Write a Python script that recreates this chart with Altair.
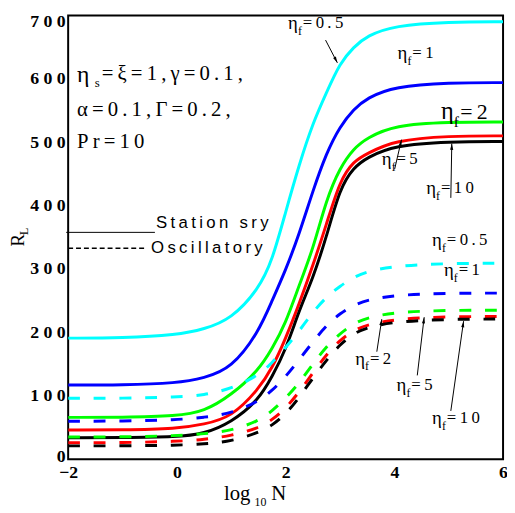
import math
import altair as alt
import pandas as pd

# ---------------- data ----------------
log_n = [-2, -1, 0, 0.5, 1, 1.5, 1.75, 2, 2.25, 2.5, 2.75, 3, 3.25, 3.5, 4, 5, 6]
eta_f_values = ["0.5", "1", "2", "5", "10"]
line_colors = ["#00FFFF", "#0000FF", "#00FF00", "#FF0000", "#000000"]

stat_05 = [191, 191, 196, 205, 221, 268, 312, 390, 465, 530, 578, 625, 650, 668, 684, 690, 690]
stat_1 = [117, 117, 120, 128, 143, 200, 250, 298, 355, 423, 483, 525, 552, 570, 588, 594, 594]
stat_2 = [66, 66, 68, 75, 101, 140, 174, 214, 275, 330, 410, 460, 490, 507, 527, 532, 532]
stat_5 = [46, 46, 48, 55, 66, 110, 143, 190, 245, 305, 370, 440, 470, 482, 503, 510, 510]
stat_10 = [34, 34, 35, 40, 58, 93, 130, 172, 235, 285, 350, 428, 460, 476, 495, 501, 501]

osc_05 = [96, 96, 98, 101, 111, 132, 152, 176, 202, 232, 256, 273, 287, 296, 305, 309, 309]
osc_1 = [60, 60, 62, 66, 72, 91, 108, 130, 157, 185, 211, 230, 243, 251, 259, 262, 262]
osc_2 = [35, 35, 37, 40, 45, 60, 76, 96, 120, 150, 178, 198, 214, 223, 232, 235, 235]
osc_5 = [26, 26, 28, 31, 37, 49, 62, 80, 106, 136, 165, 188, 203, 212, 221, 225, 225]
osc_10 = [21, 21, 22, 24, 28, 42, 53, 71, 97, 128, 156, 181, 198, 208, 217, 221, 221]

y_ticks = [0, 100, 200, 300, 400, 500, 600, 700]
x_ticks = [-2, 0, 2, 4, 6]

# curve labels (eta_f = value), anchor of the eta glyph in data units
label_values = ["0.5", "1", "2", "5", "10", "0.5", "1", "2", "5", "10"]
label_x = [2.045, 4.059, 4.857, 3.769, 4.585, 4.694, 4.912, 3.279, 4.041, 4.694]
label_y = [687.6, 640.9, 547.6, 472.9, 427.8, 345.3, 298.7, 158.7, 116.7, 65.3]
label_scale = [1, 1, 1.3, 1, 1, 1, 1, 1, 1, 1]

# arrows (tail -> head) in data units
arrow_x1 = [2.735, 4.005, 5.039, 3.678, 4.422, 5.039]
arrow_y1 = [661.1, 457.3, 412.2, 169.6, 132.2, 76.2]
arrow_x2 = [2.952, 4.132, 5.057, 3.769, 4.549, 5.274]
arrow_y2 = [625.3, 504.0, 497.8, 220.9, 224.0, 217.8]

param_lines = ["=ξ=1,γ=0.1,", "α=0.1,Γ=0.2,", "Pr=10"]
legend_texts = ["Station sry", "Oscillatory"]

# ---------------- build tables ----------------
W, H = 441, 450
PX_PER_X = W / 8
PX_PER_Y = H / 700
THIN = "\u2009"


def nudge(x, y, dx_px, dy_px):
    return x + dx_px / PX_PER_X, y - dy_px / PX_PER_Y


rows = []
for kind, series in (("Stationary", [stat_05, stat_1, stat_2, stat_5, stat_10]),
                     ("Oscillatory", [osc_05, osc_1, osc_2, osc_5, osc_10])):
    for eta, vals in zip(eta_f_values, series):
        for x, y in zip(log_n, vals):
            rows.append({"logN": x, "RL": y, "eta": eta, "kind": kind})
df = pd.DataFrame(rows)

pieces = []
for v, x, y, s in zip(label_values, label_x, label_y, label_scale):
    pieces.append({"x": x, "y": y, "text": "η", "size": 19 * s})
    fx, fy = nudge(x, y, 10 * s, 8 * s)
    pieces.append({"x": fx, "y": fy, "text": "f", "size": 12 * s})
    rx, ry = nudge(x, y, 15 * s, 0)
    pieces.append({"x": rx, "y": ry, "text": THIN.join("=" + v), "size": 17 * s})

# parameter block
px0, py0 = -1.837, 605.1
pieces.append({"x": px0, "y": py0, "text": "η", "size": 24})
sx, sy = nudge(px0, py0, 18, 8)
pieces.append({"x": sx, "y": sy, "text": "s", "size": 13})
rx, ry = nudge(px0, py0, 25, -2)
pieces.append({"x": rx, "y": ry, "text": THIN.join(param_lines[0]), "size": 21})
pieces.append({"x": px0, "y": 550.7, "text": THIN.join(param_lines[1]), "size": 21})
pieces.append({"x": px0, "y": 500.9, "text": THIN.join(param_lines[2]), "size": 21})
text_df = pd.DataFrame(pieces)

arrow_rows = []
for x1, y1, x2, y2 in zip(arrow_x1, arrow_y1, arrow_x2, arrow_y2):
    dxp = (x2 - x1) * PX_PER_X
    dyp = -(y2 - y1) * PX_PER_Y
    ang = math.degrees(math.atan2(dxp, -dyp)) % 360
    arrow_rows.append({"x1": x1, "y1": y1, "x2": x2, "y2": y2, "angle": ang})
arrow_df = pd.DataFrame(arrow_rows)

legend_line_df = pd.DataFrame([
    {"x1": -2.036, "x2": -0.404, "y": 357.8, "kind": "Stationary"},
    {"x1": -2.0, "x2": -0.567, "y": 332.9, "kind": "Oscillatory"},
])
legend_text_df = pd.DataFrame([
    {"x": -0.385, "y": 371.8, "text": THIN.join(legend_texts[0])},
    {"x": -0.476, "y": 332.9, "text": THIN.join(legend_texts[1])},
])

# ---------------- chart ----------------
xscale = alt.Scale(domain=[-2, 6], nice=False, zero=False)
yscale = alt.Scale(domain=[0, 700], nice=False, zero=False)
color = alt.Color("eta:N", scale=alt.Scale(domain=eta_f_values, range=line_colors), legend=None)

x_enc = alt.X("logN:Q", scale=xscale,
              axis=alt.Axis(values=x_ticks, title=None, labelPadding=5, format="d",
                            labelFlush=False))
y_enc = alt.Y("RL:Q", scale=yscale,
              axis=alt.Axis(values=y_ticks, title=None, labelPadding=3, labelFlush=False,
                            labelOffset={"condition": [
                                {"test": "datum.value == 700", "value": 6},
                                {"test": "datum.value == 0", "value": -3}],
                                "value": 0},
                            labelExpr="join(split(datum.label, ''), ' ')"))

solid = alt.Chart(df).transform_filter(alt.datum.kind == "Stationary").mark_line(
    strokeWidth=3, interpolate="basis", clip=True
).encode(x=x_enc, y=y_enc, color=color, detail="eta:N")

dashed = alt.Chart(df).transform_filter(alt.datum.kind == "Oscillatory").mark_line(
    strokeWidth=3, interpolate="basis", clip=True, strokeDash=[12, 14]
).encode(x=alt.X("logN:Q", scale=xscale), y=alt.Y("RL:Q", scale=yscale),
         color=color, detail="eta:N")

texts = alt.Chart(text_df).mark_text(
    align="left", baseline="middle", font="Liberation Serif", color="black"
).encode(x=alt.X("x:Q", scale=xscale), y=alt.Y("y:Q", scale=yscale),
         text="text:N", size=alt.Size("size:Q", scale=None))

arrow_lines = alt.Chart(arrow_df).mark_rule(color="black", strokeWidth=1).encode(
    x=alt.X("x1:Q", scale=xscale), y=alt.Y("y1:Q", scale=yscale),
    x2="x2:Q", y2="y2:Q")

arrow_heads = alt.Chart(arrow_df).mark_point(
    shape="M0,0L0.5,2L-0.5,2Z", filled=True, color="black", opacity=1, size=40
).encode(x=alt.X("x2:Q", scale=xscale), y=alt.Y("y2:Q", scale=yscale),
         angle=alt.Angle("angle:Q", scale=None))

leg_solid = alt.Chart(legend_line_df).transform_filter(alt.datum.kind == "Stationary").mark_rule(
    color="black", strokeWidth=1, clip=False
).encode(x=alt.X("x1:Q", scale=xscale), x2="x2:Q", y=alt.Y("y:Q", scale=yscale))

leg_dash = alt.Chart(legend_line_df).transform_filter(alt.datum.kind == "Oscillatory").mark_rule(
    color="black", strokeWidth=1.5, strokeDash=[5, 3]
).encode(x=alt.X("x1:Q", scale=xscale), x2="x2:Q", y=alt.Y("y:Q", scale=yscale))

leg_text = alt.Chart(legend_text_df).mark_text(
    align="left", baseline="middle", font="Liberation Sans", fontSize=17, color="black"
).encode(x=alt.X("x:Q", scale=xscale), y=alt.Y("y:Q", scale=yscale), text="text:N")

# axis titles (R_L and log10 N)
ytitle_main = alt.Chart(pd.DataFrame({"t": ["R"]})).mark_text(
    font="Liberation Serif", fontSize=19, angle=270, align="center", baseline="middle", color="black"
).encode(x=alt.value(-51), y=alt.value(228), text="t:N")
ytitle_sub = alt.Chart(pd.DataFrame({"t": ["L"]})).mark_text(
    font="Liberation Serif", fontSize=12, angle=270, align="center", baseline="middle", color="black"
).encode(x=alt.value(-45), y=alt.value(219), text="t:N")

xtitle_log = alt.Chart(pd.DataFrame({"t": ["log"]})).mark_text(
    font="Liberation Serif", fontSize=21, align="left", baseline="middle", color="black"
).encode(x=alt.value(158), y=alt.value(485), text="t:N")
xtitle_sub = alt.Chart(pd.DataFrame({"t": ["10"]})).mark_text(
    font="Liberation Serif", fontSize=12, align="left", baseline="middle", color="black"
).encode(x=alt.value(189), y=alt.value(493), text="t:N")
xtitle_n = alt.Chart(pd.DataFrame({"t": ["N"]})).mark_text(
    font="Liberation Serif", fontSize=21, align="left", baseline="middle", color="black"
).encode(x=alt.value(206), y=alt.value(485), text="t:N")

chart = alt.layer(
    solid, dashed, arrow_lines, arrow_heads, texts, leg_solid, leg_dash, leg_text,
    ytitle_main, ytitle_sub, xtitle_log, xtitle_sub, xtitle_n
).properties(
    width=W, height=H,
    autosize=alt.AutoSizeParams(type="none"),
    padding={"left": 61, "top": 4, "right": 4, "bottom": 50},
    background="white",
).configure_view(
    stroke="black", strokeWidth=2
).configure_axis(
    domain=False, ticks=False, grid=False,
    labelFont="Liberation Serif", labelFontWeight="bold", labelFontSize=18, labelColor="black"
)

chart.save("out.html", embed_options={"renderer": "svg", "actions": False})
